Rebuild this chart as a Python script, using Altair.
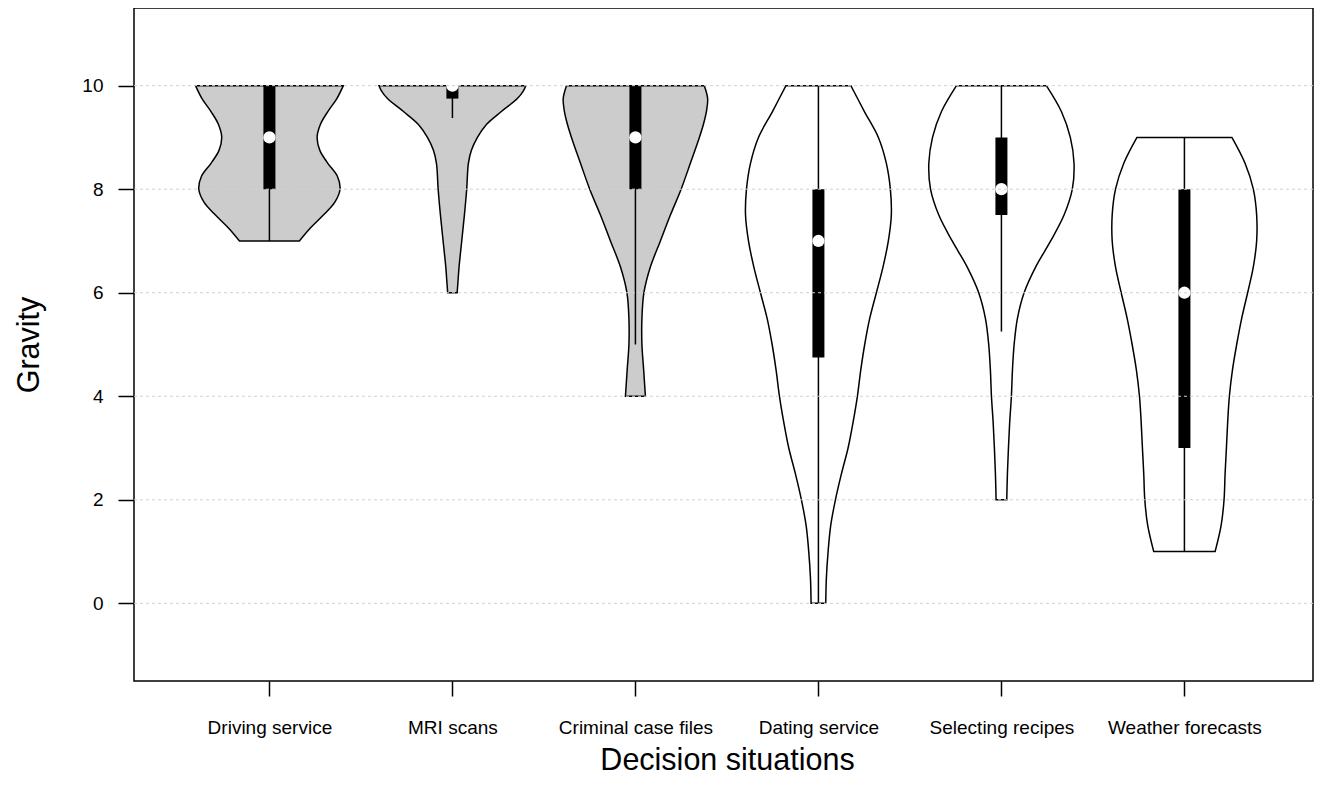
import json
import altair as alt
import pandas as pd

# ---- data ----
categories = ["Driving service", "MRI scans", "Criminal case files",
              "Dating service", "Selecting recipes", "Weather forecasts"]
positions = [1, 2, 3, 4, 5, 6]
fill_colors = ["#cccccc", "#cccccc", "#cccccc", "#ffffff", "#ffffff", "#ffffff"]

medians = [9, 10, 9, 7, 8, 6]
q1 = [8, 9.75, 8, 4.75, 7.5, 3]
q3 = [10, 10, 10, 8, 9, 8]
whisker_lo = [7, 9.375, 5, 0, 5.25, 1]
whisker_hi = [10, 10, 10, 10, 10, 9]

# violin outlines: gravity levels and relative density (1 = widest)
driving_y = [7, 7.25, 7.5, 7.75, 8, 8.25, 8.5, 8.75, 9, 9.25, 9.5, 9.75, 10]
driving_d = [0.405, 0.554, 0.73, 0.885, 0.955, 0.919, 0.79, 0.682, 0.645, 0.689, 0.79, 0.912, 1.0]

mri_y = [6, 6.25, 6.5, 7, 7.5, 8, 8.5, 8.75, 9, 9.25, 9.5, 9.75, 9.9, 10]
mri_d = [0.064, 0.077, 0.09, 0.126, 0.162, 0.193, 0.216, 0.257, 0.338, 0.46, 0.662, 0.878, 0.96, 0.993]

criminal_y = [4, 4.5, 5, 5.5, 6, 6.5, 7, 7.5, 8, 8.5, 9, 9.25, 9.5, 9.75, 10]
criminal_d = [0.135, 0.112, 0.088, 0.088, 0.115, 0.203, 0.338, 0.473, 0.618, 0.743, 0.865, 0.919, 0.96, 0.977, 0.932]

dating_y = [0, 0.5, 1, 1.5, 2, 2.5, 3, 3.5, 4, 4.5, 5, 5.5, 6, 6.5, 7, 7.5, 8, 8.5, 9, 9.5, 10]
dating_d = [0.099, 0.108, 0.131, 0.166, 0.23, 0.311, 0.401, 0.469, 0.527, 0.572, 0.626,
            0.693, 0.784, 0.874, 0.946, 0.986, 0.973, 0.919, 0.811, 0.622, 0.439]

recipes_y = [2, 2.5, 3, 3.5, 4, 4.5, 5, 5.5, 6, 6.5, 7, 7.5, 8, 8.5, 9, 9.5, 10]
recipes_d = [0.072, 0.081, 0.095, 0.112, 0.135, 0.149, 0.172, 0.216, 0.307, 0.464,
             0.666, 0.847, 0.959, 0.982, 0.932, 0.811, 0.608]

weather_y = [1, 1.5, 2, 2.5, 3, 3.5, 4, 4.5, 5, 5.5, 6, 6.5, 7, 7.5, 8, 8.5, 9]
weather_d = [0.415, 0.496, 0.536, 0.55, 0.568, 0.585, 0.608, 0.649, 0.707, 0.774,
             0.855, 0.932, 0.977, 0.977, 0.932, 0.82, 0.642]

y_ticks = [0, 2, 4, 6, 8, 10]

# ---- build tables ----
HALF = 0.404  # half of the maximal violin width, in category units
violin_y = [driving_y, mri_y, criminal_y, dating_y, recipes_y, weather_y]
violin_d = [driving_d, mri_d, criminal_d, dating_d, recipes_d, weather_d]

rows = []
for cat, pos, fc, ys, ds in zip(categories, positions, fill_colors, violin_y, violin_d):
    for yv, dv in zip(ys, ds):
        rows.append({"cat": cat, "pos": pos, "fill": fc, "y": yv,
                     "lo": pos - HALF * dv, "hi": pos + HALF * dv})
vdf = pd.DataFrame(rows).sort_values(["pos", "y"]).reset_index(drop=True)

sdf = pd.DataFrame({"cat": categories, "pos": positions, "med": medians,
                    "q1": q1, "q3": q3, "wlo": whisker_lo, "whi": whisker_hi})
gdf = pd.DataFrame({"g": y_ticks})

FONT = "Liberation Sans"
W, H = 1179, 673
xscale = alt.Scale(domain=[0.26, 0.26 + W / 183.0], nice=False, zero=False)
yscale = alt.Scale(domain=[-1.5, 11.5], nice=False, zero=False)
label_expr = json.dumps(categories) + "[datum.value - 1]"

xaxis = alt.Axis(values=positions, labelExpr=label_expr, title="Decision situations",
                 titleFont=FONT, titleFontSize=30.5, titleFontWeight="normal", titleColor="black",
                 titleX=593, titleY=79, titleBaseline="middle", titleAlign="center",
                 labelFont=FONT, labelFontSize=19, labelColor="black", labelPadding=22,
                 labelFlush=False, labelOverlap=False,
                 tickSize=15, tickColor="black", tickWidth=1.5, domain=False, grid=False)
yaxis = alt.Axis(values=y_ticks, title="Gravity",
                 titleFont=FONT, titleFontSize=30.5, titleFontWeight="normal", titleColor="black",
                 titleX=-105, titleY=336.5, titleAngle=-90, titleBaseline="middle", titleAlign="center",
                 labelFont=FONT, labelFontSize=19, labelColor="black", labelPadding=15,
                 labelBaseline="middle",
                 tickSize=16, tickColor="black", tickWidth=1.5, domain=False, grid=False)


def X(field):
    return alt.X(field, type="quantitative", scale=xscale, axis=xaxis)


def Y(field):
    return alt.Y(field, type="quantitative", scale=yscale, axis=yaxis)


violins = alt.Chart(vdf).mark_area(
    orient="horizontal", interpolate="catmull-rom", stroke="black", strokeWidth=1.5
).encode(
    y=Y("y"), x=X("lo"), x2="hi",
    fill=alt.Fill("fill:N", scale=None),
    detail="cat:N",
)

whiskers = alt.Chart(sdf).mark_rule(color="black", strokeWidth=1.5).encode(
    x=X("pos"), y=Y("wlo"), y2="whi")

boxes = alt.Chart(sdf).mark_rule(color="black", strokeWidth=12, strokeCap="butt").encode(
    x=X("pos"), y=Y("q1"), y2="q3")

meds = alt.Chart(sdf).mark_point(shape="circle", filled=True, color="white",
                                 size=150, opacity=1).encode(x=X("pos"), y=Y("med"))

grid = alt.Chart(gdf).mark_rule(color="#d2d2d2", strokeDash=[3, 3], strokeWidth=1).encode(
    y=Y("g"))

chart = alt.layer(violins, whiskers, boxes, meds, grid).properties(
    width=W, height=H,
    autosize=alt.AutoSizeParams(type="none"),
    padding={"left": 126, "top": 0, "right": 1, "bottom": 97},
    background="white",
).configure_view(stroke="black", strokeWidth=1.5)

chart.save("out.html", embed_options={"renderer": "svg", "actions": False})
